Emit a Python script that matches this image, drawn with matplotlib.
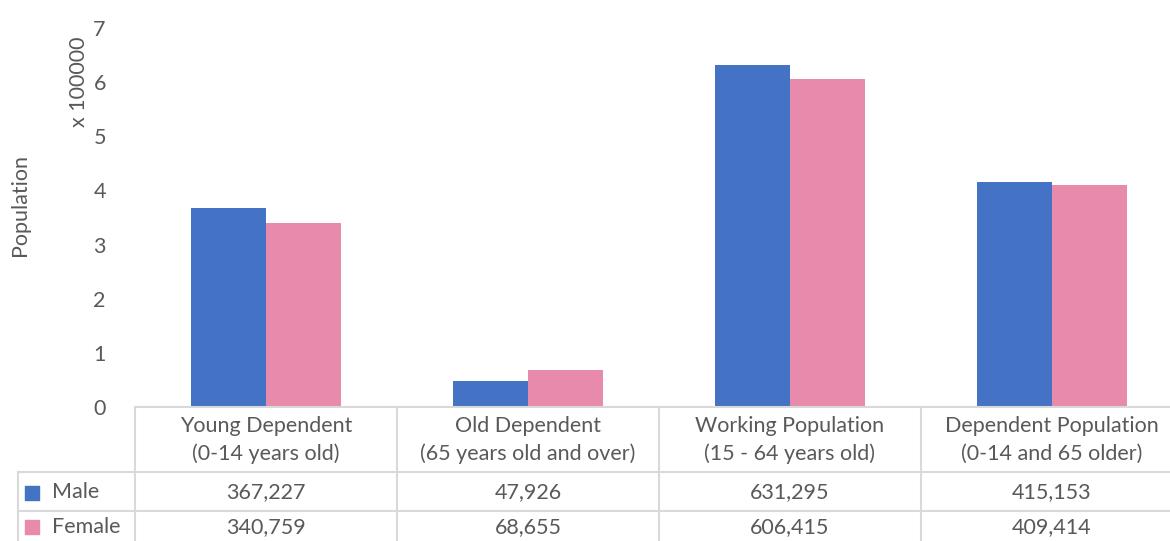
import numpy as np
import matplotlib.pyplot as plt

categories = ["Young Dependent\n(0-14 years old)", "Old Dependent\n(65 years old and over)",
              "Working Population\n(15 - 64 years old)", "Dependent Population\n(0-14 and 65 older)"]
series = ["Male", "Female"]
male = [367227, 47926, 631295, 415153]
female = [340759, 68655, 606415, 409414]
colors = ["#4472C4", "#E88AAB"]

plt.rcParams['font.family'] = ['Lato', 'DejaVu Sans']
txt = "#595959"
grid = "#D9D9D9"
fs = 15.5

W, H = 1170, 541
fig = plt.figure(figsize=(W / 100, H / 100), dpi=100)

# main axes: x from 135 px, 262 px per category, y 0 at 407 px, 7 at 28 px
x0, cw, ybot, ytop = 135, 262, 407, 28
ax = fig.add_axes([x0 / W, (H - ybot) / H, 4 * cw / W, (ybot - ytop) / H])
x = np.arange(len(categories))
bw = 75 / cw
ax.bar(x - bw / 2, np.array(male) / 1e5, bw, color=colors[0])
ax.bar(x + bw / 2, np.array(female) / 1e5, bw, color=colors[1])
ax.set_xlim(-0.5, len(categories) - 0.5)
ax.set_ylim(0, 7)
ax.set_yticks(range(8))
ax.tick_params(axis='y', length=0, labelsize=fs, labelcolor=txt, pad=21)
ax.set_xticks([])
for s in ["top", "right", "left"]:
    ax.spines[s].set_visible(False)
ax.spines["bottom"].set_color(grid)
ax.spines["bottom"].set_linewidth(1.5)

# table overlay in pixel coordinates
tab = fig.add_axes([0, 0, 1, 1])
tab.set_xlim(0, W)
tab.set_ylim(H, 0)
tab.axis("off")
rows = [407, 472, 511, 541]
for i in range(len(categories) + 1):
    tab.plot([x0 + i * cw] * 2, [rows[0], H], color=grid, lw=1.5)
tab.plot([18, 18], [rows[1], H], color=grid, lw=1.5)
for r in rows[1:3]:
    tab.plot([18, x0 + 4 * cw], [r, r], color=grid, lw=1.5)

for i, c in enumerate(categories):
    tab.text(x0 + (i + 0.5) * cw, 440, c, ha="center", va="center", fontsize=fs,
             color=txt, linespacing=1.5)
for j, (name, vals) in enumerate(zip(series, [male, female])):
    yc = (rows[j + 1] + rows[j + 2]) / 2 + 1
    tab.scatter([32], [yc], marker="s", s=110, color=colors[j])
    tab.text(52, yc, name, ha="left", va="center", fontsize=fs, color=txt)
    for i, v in enumerate(vals):
        tab.text(x0 + (i + 0.5) * cw, yc, f"{v:,}", ha="center", va="center",
                 fontsize=fs, color=txt)

fig.text(20 / W, 1 - 205 / H, "Population", rotation=90, ha="center", va="center",
         fontsize=fs, color=txt)
fig.text(79 / W, 1 - 82 / H, "x 100000", rotation=90, ha="center", va="center",
         fontsize=fs, color=txt)

fig.savefig("out.png", dpi=100)
